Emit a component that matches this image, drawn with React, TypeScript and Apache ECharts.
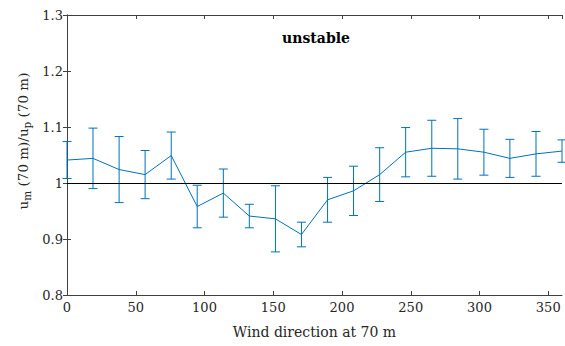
import React, { useEffect, useRef } from "react";
import * as echarts from "echarts";

const directions = [0, 18.9, 37.9, 56.8, 75.8, 94.7, 113.7, 132.6, 151.6, 170.5, 189.5, 208.4, 227.4, 246.3, 265.3, 284.2, 303.2, 322.1, 341.1, 360];
const ratioMean = [1.041, 1.044, 1.024, 1.015, 1.049, 0.958, 0.982, 0.941, 0.936, 0.908, 0.970, 0.986, 1.015, 1.055, 1.062, 1.061, 1.055, 1.044, 1.052, 1.057];
const ratioErr = [0.033, 0.054, 0.059, 0.043, 0.042, 0.038, 0.043, 0.021, 0.059, 0.022, 0.040, 0.044, 0.048, 0.044, 0.050, 0.054, 0.041, 0.034, 0.040, 0.020];
const referenceLevel = 1;
const titleText = "unstable";
const xAxisTitle = "Wind direction at 70 m";

const FONT = "DejaVu Serif";
const TXT = "#262626";
const AX = "#404040";
const BLUE = "#0072BD";

export default function App() {
  const ref = useRef<HTMLDivElement>(null);
  useEffect(() => {
    if (!ref.current) return;
    const chart = echarts.init(ref.current, null, { renderer: "svg" });
    const lineData = directions.map((d, i) => [d, ratioMean[i]]);
    const errData = directions.map((d, i) => [d, ratioMean[i] - ratioErr[i], ratioMean[i] + ratioErr[i]]);
    const axisCommon = {
      type: "value",
      axisLine: { show: true, lineStyle: { color: AX, width: 1 } },
      axisTick: { show: true, inside: true, length: 4, lineStyle: { color: AX } },
      splitLine: { show: false },
    };
    chart.setOption({
      animation: false,
      grid: { left: 67, right: 3, top: 15, bottom: 51 },
      xAxis: [
        {
          ...axisCommon,
          min: 0,
          max: 360,
          interval: 50,
          axisLabel: { show: true, showMaxLabel: false, color: TXT, fontFamily: FONT, fontSize: 13, margin: 6 },
          name: xAxisTitle,
          nameLocation: "middle",
          nameGap: 30,
          nameTextStyle: { color: TXT, fontFamily: FONT, fontSize: 14 },
        },
        { ...axisCommon, position: "top", min: 0, max: 360, interval: 50, axisLabel: { show: false } },
      ],
      yAxis: [
        {
          ...axisCommon,
          min: 0.8,
          max: 1.3,
          interval: 0.1,
          axisLabel: { color: TXT, fontFamily: FONT, fontSize: 13, margin: 4 },
        },
        { ...axisCommon, position: "right", min: 0.8, max: 1.3, interval: 0.1, axisLabel: { show: false } },
      ],
      graphic: [
        {
          type: "text",
          x: 316,
          y: 38,
          style: {
            text: titleText,
            fontFamily: FONT,
            fontSize: 14,
            fontWeight: "bold",
            fill: "#000",
            align: "center",
            verticalAlign: "middle",
          },
        },
        {
          type: "text",
          x: 24,
          y: 141,
          rotation: Math.PI / 2,
          style: {
            text: "{n|u}{s|m}{n| (70 m)/u}{s|p}{n| (70 m)}",
            align: "center",
            verticalAlign: "middle",
            fill: TXT,
            rich: {
              n: { fontFamily: FONT, fontSize: 13.5, lineHeight: 16, verticalAlign: "top", fill: TXT },
              s: { fontFamily: FONT, fontSize: 10.5, lineHeight: 12, padding: [7, 0, 0, 0], verticalAlign: "bottom", fill: TXT },
            },
          },
        },
      ],
      series: [
        {
          type: "line",
          data: lineData,
          showSymbol: false,
          lineStyle: { color: BLUE, width: 1 },
          itemStyle: { color: BLUE },
          z: 3,
          markLine: {
            silent: true,
            symbol: "none",
            label: { show: false },
            lineStyle: { color: "#000", width: 1, type: "solid" },
            data: [{ yAxis: referenceLevel }],
          },
        },
        {
          type: "custom",
          data: errData,
          z: 4,
          clip: false,
          renderItem: (params: any, api: any) => {
            const x = api.value(0);
            const lo = api.coord([x, api.value(1)]);
            const hi = api.coord([x, api.value(2)]);
            const hw = 4.5;
            const st = { stroke: BLUE, lineWidth: 1 };
            return {
              type: "group",
              children: [
                { type: "line", shape: { x1: lo[0], y1: lo[1], x2: hi[0], y2: hi[1] }, style: st },
                { type: "line", shape: { x1: lo[0] - hw, y1: lo[1], x2: lo[0] + hw, y2: lo[1] }, style: st },
                { type: "line", shape: { x1: hi[0] - hw, y1: hi[1], x2: hi[0] + hw, y2: hi[1] }, style: st },
              ],
            };
          },
        },
      ],
    });
    return () => chart.dispose();
  }, []);
  return <div ref={ref} style={{ position: "fixed", left: 0, top: 0, width: 565, height: 346, background: "#fff" }} />;
}
